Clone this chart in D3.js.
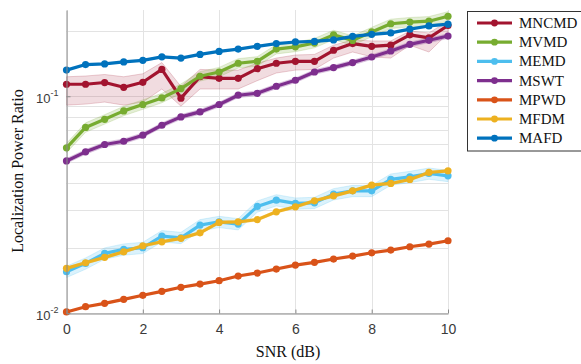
<!DOCTYPE html>
<html><head><meta charset="utf-8">
<script src="https://cdn.jsdelivr.net/npm/d3@7"></script>
<style>
body{margin:0;background:#fff;}
svg{display:block;}
</style></head>
<body>
<svg id="chart" width="581" height="364"></svg>
<script>
// ---- data ----
const snr = [0,0.5,1,1.5,2,2.5,3,3.5,4,4.5,5,5.5,6,6.5,7,7.5,8,8.5,9,9.5,10];
const xTicks = [0,2,4,6,8,10];
const yTicks = [0.01, 0.1];
const yTickLabels = ["-2", "-1"];
const seriesNames = ["MNCMD","MVMD","MEMD","MSWT","MPWD","MFDM","MAFD"];
const seriesColors = ["#A2142F","#77AC30","#4DBEEE","#7E2F8E","#D95319","#EDB120","#0072BD"];

const MNCMD = [0.1136,0.1136,0.1157,0.110,0.116,0.133,0.098,0.123,0.121,0.121,0.134,0.142,0.145,0.145,0.163,0.175,0.170,0.172,0.192,0.186,0.212];
const MNCMD_lo = [0.091,0.092,0.094,0.091,0.094,0.108,0.090,0.108,0.108,0.108,0.118,0.128,0.132,0.133,0.150,0.160,0.152,0.150,0.172,0.160,0.195];
const MNCMD_hi = [0.123,0.124,0.126,0.123,0.127,0.143,0.111,0.133,0.132,0.132,0.142,0.150,0.155,0.156,0.172,0.182,0.180,0.180,0.200,0.196,0.222];
const MVMD = [0.0578,0.0718,0.0783,0.0856,0.0916,0.0982,0.1085,0.1237,0.1294,0.142,0.145,0.165,0.169,0.176,0.192,0.181,0.198,0.216,0.220,0.222,0.234];
const MEMD = [0.0155,0.01694,0.01884,0.01966,0.0200,0.02264,0.02223,0.02544,0.02635,0.02571,0.03102,0.03317,0.03203,0.03224,0.03535,0.03661,0.03661,0.04132,0.04248,0.04403,0.04293];
const MSWT = [0.0503,0.0554,0.0599,0.0620,0.0661,0.0735,0.0803,0.0847,0.0916,0.1011,0.1032,0.1112,0.1185,0.1294,0.1356,0.143,0.1517,0.1617,0.1736,0.1812,0.1896];
const MPWD = [0.01011,0.01069,0.01108,0.01156,0.01207,0.01259,0.01314,0.0136,0.01409,0.01481,0.01529,0.01595,0.01664,0.01713,0.01774,0.01831,0.01896,0.01951,0.02021,0.0208,0.02154];
const MFDM = [0.01607,0.01705,0.01806,0.01916,0.02042,0.02131,0.0221,0.02344,0.02618,0.02635,0.02697,0.0293,0.0309,0.03293,0.03472,0.03661,0.0389,0.0396,0.04132,0.0445,0.04527];
const MAFD = [0.132,0.140,0.141,0.144,0.1465,0.152,0.150,0.156,0.161,0.165,0.170,0.175,0.178,0.179,0.182,0.189,0.193,0.196,0.204,0.211,0.215];
// relative band half-widths (fraction) for the shaded spread of each series
const bandFrac = {MVMD:0.05, MEMD:0.06, MSWT:0.025, MPWD:0.0, MFDM:0.015, MAFD:0.0};

const seriesData = {MNCMD, MVMD, MEMD, MSWT, MPWD, MFDM, MAFD};

// ---- layout ----
const svg = d3.select("#chart");
const L = 66.5, R = 448, T = 10, B = 313;
const x = d3.scaleLinear().domain([0,10]).range([L,R]);
const y = d3.scaleLog().domain([0.01,0.25]).range([B,T]);

// grid
const grid = svg.append("g");
const minor = [];
[0.01,0.1].forEach(d => { for (let k=1;k<10;k++){ const v=d*k; if (v<=0.25) minor.push(v);} });
grid.selectAll("line.h").data(minor).join("line")
  .attr("x1",L).attr("x2",R)
  .attr("y1",d=>Math.round(y(d))+0.5).attr("y2",d=>Math.round(y(d))+0.5)
  .attr("stroke","#e3e3e3").attr("stroke-width",1);
grid.selectAll("line.v").data(xTicks).join("line")
  .attr("x1",d=>Math.round(x(d))+0.5).attr("x2",d=>Math.round(x(d))+0.5)
  .attr("y1",T).attr("y2",B)
  .attr("stroke","#e3e3e3").attr("stroke-width",1);

// bands
const area = d3.area().x((d,i)=>x(snr[i])).y0(d=>y(d[0])).y1(d=>y(d[1]));
function bandFor(name){
  if (name==="MNCMD") return MNCMD.map((v,i)=>[MNCMD_lo[i],MNCMD_hi[i]]);
  const f = bandFrac[name];
  return seriesData[name].map(v=>[v*(1-f), v*(1+f)]);
}
seriesNames.forEach((name,si)=>{
  if (name!=="MNCMD" && !bandFrac[name]) return;
  const b = bandFor(name);
  svg.append("path").datum(b).attr("d",area)
    .attr("fill",seriesColors[si]).attr("fill-opacity",name==="MNCMD"?0.15:0.2)
    .attr("stroke",seriesColors[si]).attr("stroke-opacity",0.25).attr("stroke-width",0.8);
});

// lines + markers
const line = d3.line().x((d,i)=>x(snr[i])).y(d=>y(d));
const drawOrder = ["MNCMD","MVMD","MSWT","MPWD","MEMD","MFDM","MAFD"];
drawOrder.forEach(name=>{
  const si = seriesNames.indexOf(name);
  const g = svg.append("g");
  g.append("path").datum(seriesData[name]).attr("d",line)
    .attr("fill","none").attr("stroke",seriesColors[si]).attr("stroke-width",3.2)
    .attr("stroke-linejoin","round");
  g.selectAll("circle").data(seriesData[name]).join("circle")
    .attr("cx",(d,i)=>x(snr[i])).attr("cy",d=>y(d)).attr("r",3.6)
    .attr("fill",seriesColors[si]);
});

// axes
const axisColor = "#8a8a8a";
const xAxis = svg.append("g").attr("transform",`translate(0,${B+0.5})`)
  .call(d3.axisBottom(x).tickValues(xTicks).tickSizeInner(-4).tickSizeOuter(0).tickPadding(11).tickFormat(d3.format("d")));
xAxis.select(".domain").attr("stroke",axisColor);
xAxis.selectAll(".tick line").attr("stroke",axisColor);
xAxis.selectAll("text").attr("font-family","'Liberation Sans', Arial, sans-serif").attr("font-size",14).attr("fill","#3a3a3a");

const yAxis = svg.append("g").attr("transform",`translate(${L},0)`)
  .call(d3.axisLeft(y).tickValues(yTicks).tickSizeInner(-4).tickSizeOuter(0).tickPadding(8).tickFormat(""));
yAxis.select(".domain").attr("stroke",axisColor);
yAxis.selectAll(".tick line").attr("stroke",axisColor);
yAxis.selectAll(".tick text").each(function(d,i){
  const t = d3.select(this);
  t.text(null).attr("font-family","'Liberation Sans', Arial, sans-serif").attr("fill","#3a3a3a")
   .attr("dy","0.6em");
  t.append("tspan").attr("font-size",13).text("10");
  t.append("tspan").attr("font-size",9).attr("dy","-0.7em").text(yTickLabels[i]);
});

// axis titles
svg.append("text").attr("x",288).attr("y",357).attr("text-anchor","middle")
  .attr("font-family","'Liberation Serif', 'Times New Roman', serif").attr("font-size",16)
  .attr("fill","#111").text("SNR (dB)");
svg.append("text").attr("transform","translate(23,171) rotate(-90)").attr("text-anchor","middle")
  .attr("font-family","'Liberation Serif', 'Times New Roman', serif").attr("font-size",16)
  .attr("fill","#111").text("Localization Power Ratio");

// legend
const lg = svg.append("g");
lg.append("rect").attr("x",467.5).attr("y",11.5).attr("width",130).attr("height",139.5)
  .attr("fill","#fff").attr("stroke","#333").attr("stroke-width",1);
seriesNames.forEach((name,i)=>{
  const cy = 23 + i*19.2;
  lg.append("line").attr("x1",477).attr("x2",512).attr("y1",cy).attr("y2",cy)
    .attr("stroke",seriesColors[i]).attr("stroke-width",3.2);
  lg.append("circle").attr("cx",494.5).attr("cy",cy).attr("r",3.4).attr("fill",seriesColors[i]);
  lg.append("text").attr("x",519).attr("y",cy+5)
    .attr("font-family","'Liberation Serif', 'Times New Roman', serif").attr("font-size",15)
    .attr("fill","#111").text(name);
});
</script>
</body></html>
